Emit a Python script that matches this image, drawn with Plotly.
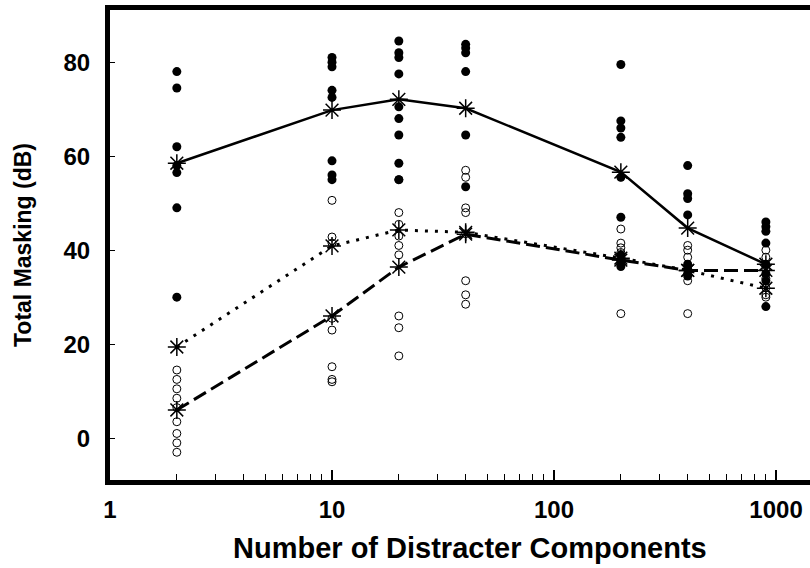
import plotly.graph_objects as go

# ---- data ----
x_levels = [2, 10, 20, 40, 200, 400, 900]

mean_solid = [58.5, 69.8, 72.1, 70.2, 56.6, 44.7, 37.0]
mean_dotted = [19.4, 40.9, 44.3, 43.8, 38.3, 35.7, 31.9]
mean_dashed = [6.0, 26.0, 36.4, 43.4, 37.9, 35.7, 35.7]

filled_pts = {
    2: [78, 74.5, 62, 58, 56.5, 49, 30],
    10: [81, 80, 79, 74, 72.5, 59, 56, 55],
    20: [84.5, 82, 81, 77.5, 70.5, 68, 64.5, 58.5, 55],
    40: [83.8, 83, 82, 78, 64.5, 53.5],
    200: [79.5, 67.5, 66, 64, 55.5, 47, 39, 37.5, 36.5],
    400: [58, 52, 51, 47.5, 37, 36, 35, 34.5],
    900: [46, 45, 44, 41.5, 37, 35, 33.5, 28],
}
open_pts = {
    2: [14.5, 12.5, 10.5, 8.5, 6.5, 3.5, 1, -1, -3],
    10: [50.6, 42.8, 41.5, 25.5, 23, 15.2, 12.5, 12],
    20: [55, 48, 45.5, 43, 41, 39, 26, 23.5, 17.5],
    40: [57, 55.5, 49, 48, 43.5, 33.5, 30.5, 28.5],
    200: [44.5, 41.5, 40.5, 39.5, 37, 26.5],
    400: [41, 40, 38.5, 33.5, 26.5],
    900: [40, 38.5, 36, 34, 32, 30.5, 30],
}

x_ticks = [1, 10, 100, 1000]
y_ticks = [0, 20, 40, 60, 80]
x_title = "Number of Distracter Components"
y_title = "Total Masking (dB)"

FONT = "Liberation Sans, Arial, Helvetica, sans-serif"

fig = go.Figure()

fx, fy = [], []
for k, vals in filled_pts.items():
    fx += [k] * len(vals)
    fy += vals
ox, oy = [], []
for k, vals in open_pts.items():
    ox += [k] * len(vals)
    oy += vals

fig.add_trace(go.Scatter(x=ox, y=oy, mode="markers",
                         marker=dict(symbol="circle-open", size=8, color="black",
                                     line=dict(width=1, color="black")),
                         showlegend=False))
fig.add_trace(go.Scatter(x=fx, y=fy, mode="markers",
                         marker=dict(symbol="circle", size=9, color="black"),
                         showlegend=False))

for ys, dash, w in [(mean_solid, "solid", 2.5),
                    (mean_dotted, "3px,7px", 3),
                    (mean_dashed, "14px,6px", 3)]:
    fig.add_trace(go.Scatter(x=x_levels, y=ys, mode="lines+markers",
                             line=dict(color="black", width=w, dash=dash),
                             marker=dict(symbol="asterisk-open", size=15,
                                         color="black",
                                         line=dict(width=1.5, color="black")),
                             showlegend=False))

fig.update_layout(
    width=810, height=568,
    margin=dict(l=110, r=0, t=10, b=88),
    paper_bgcolor="white", plot_bgcolor="white",
    font=dict(family=FONT, size=20, color="black"),
)

fig.add_annotation(
    text=x_title, xref="paper", yref="paper", x=0.514, y=-0.145,
    xanchor="center", yanchor="middle", showarrow=False,
    font=dict(family=FONT, size=29, color="black", weight="bold"),
)

fig.update_xaxes(
    type="log", range=[0, 3.153],
    tickmode="array", tickvals=x_ticks, ticktext=[str(v) for v in x_ticks],
    ticks="inside", ticklen=10, tickwidth=1.5, tickcolor="black",
    minor=dict(tickvals=[2, 3, 4, 5, 6, 7, 8, 9, 20, 30, 40, 50, 60, 70, 80, 90,
                         200, 300, 400, 500, 600, 700, 800, 900],
               ticks="inside", ticklen=6, tickwidth=1, tickcolor="black"),
    showgrid=False, zeroline=False,
    showline=True, linewidth=5, linecolor="black", mirror=True,
    tickfont=dict(family=FONT, size=24, color="black", weight="bold"),
    ticklabelstandoff=4,
)
fig.update_yaxes(
    range=[-8.9, 91.1],
    tickmode="array", tickvals=y_ticks, ticktext=[str(v) for v in y_ticks],
    ticks="inside", ticklen=5, tickwidth=1, tickcolor="black",
    showgrid=False, zeroline=False,
    showline=True, linewidth=5, linecolor="black", mirror=False,
    tickfont=dict(family=FONT, size=24, color="black", weight="bold"),
    ticklabelstandoff=10,
    title=dict(text=y_title,
               font=dict(family=FONT, size=23, color="black", weight="bold"),
               standoff=27),
)

fig.write_html("out.html")
